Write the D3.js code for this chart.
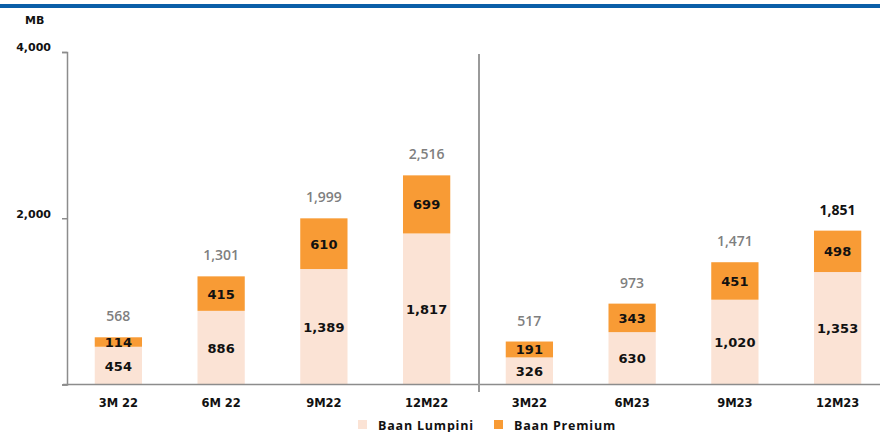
<!DOCTYPE html>
<html>
<head>
<meta charset="utf-8">
<script src="https://cdn.jsdelivr.net/npm/d3@7"></script>
<style>
  body { margin: 0; background: #fff; }
  text { font-family: "DejaVu Sans", sans-serif; }
</style>
</head>
<body>
<svg id="chart" width="880" height="432"></svg>
<script>
var periods = ["3M 22", "6M 22", "9M22", "12M22", "3M22", "6M23", "9M23", "12M23"]
var lumpini = [454, 886, 1389, 1817, 326, 630, 1020, 1353]
var premium = [114, 415, 610, 699, 191, 343, 451, 498]
var totals = [568, 1301, 1999, 2516, 517, 973, 1471, 1851]
var yTicks = [0, 2000, 4000]
var seriesNames = ["Baan Lumpini", "Baan Premium"]

var colors = { "Baan Lumpini": "#fbe3d5", "Baan Premium": "#f89b35" }

var svg = d3.select("#chart")
var fmt = d3.format(",")

// top blue band
svg.append("rect").attr("x", 0).attr("y", 4).attr("width", 880).attr("height", 4).attr("fill", "#0a5fa8")

var x = d3.scaleBand().domain(periods).range([67, 889]).paddingInner(0.54).paddingOuter(0.27)
var y = d3.scaleLinear().domain([0, 4000]).range([384.5, 52])

var rows = periods.map(function(p, i) {
    return { period: p, "Baan Lumpini": lumpini[i], "Baan Premium": premium[i], total: totals[i], i: i }
})
var stacked = d3.stack().keys(seriesNames)(rows)

// bars
var layers = svg.selectAll("g.layer")
    .data(stacked)
    .enter()
    .append("g")
    .attr("class", "layer")
    .attr("fill", function(d) { return colors[d.key] })

layers.selectAll("rect")
    .data(function(d) { return d })
    .enter()
    .append("rect")
    .attr("x", function(d) { return x(d.data.period) })
    .attr("width", x.bandwidth())
    .attr("y", function(d) { return y(d[1]) })
    .attr("height", function(d) { return y(d[0]) - y(d[1]) })

// segment labels
layers.selectAll("text")
    .data(function(d) { return d })
    .enter()
    .append("text")
    .attr("x", function(d) { return x(d.data.period) + x.bandwidth() / 2 })
    .attr("y", function(d) { return (y(d[0]) + y(d[1])) / 2 + 5 })
    .attr("text-anchor", "middle")
    .attr("fill", "#111")
    .style("font-size", "13px")
    .style("font-weight", "bold")
    .text(function(d) { return fmt(d[1] - d[0]) })

// totals
svg.selectAll("text.total")
    .data(rows)
    .enter()
    .append("text")
    .attr("class", "total")
    .attr("x", function(d) { return x(d.period) + x.bandwidth() / 2 })
    .attr("y", function(d) { return y(d.total) - 16 })
    .attr("text-anchor", "middle")
    .attr("fill", function(d) { return d.i == 7 ? "#111" : "#7f7f7f" })
    .style("font-size", "14px")
    .style("font-weight", function(d) { return d.i == 7 ? "bold" : "600" })
    .style("font-family", "'Open Sans', sans-serif")
    .text(function(d) { return fmt(d.total) })

// y axis
var yAxis = svg.append("g")
    .attr("transform", "translate(67,0)")
    .call(d3.axisLeft(y).tickValues(yTicks).tickSize(5).tickFormat(function(d) { return d ? fmt(d) : "" }))
yAxis.select(".domain").attr("stroke", "#8c8c8c").attr("stroke-width", 1.5)
yAxis.selectAll(".tick line").attr("stroke", "#8c8c8c").attr("stroke-width", 1.5)
yAxis.selectAll(".tick text")
    .attr("x", -16)
    .attr("dy", "-0.1em")
    .attr("fill", "#111")
    .style("font-size", "11px")
    .style("font-weight", "bold")
    .style("font-family", "'DejaVu Sans', sans-serif")

// x axis
var xAxis = svg.append("g")
    .attr("transform", "translate(0,384.5)")
    .call(d3.axisBottom(x).tickSize(0).tickPadding(14))
xAxis.select(".domain").attr("stroke", "#8c8c8c").attr("stroke-width", 1.5).attr("d", "M63,0H880")
xAxis.selectAll(".tick text")
    .attr("fill", "#111")
    .style("font-size", "11.5px")
    .style("font-weight", "bold")
    .style("font-family", "'DejaVu Sans', sans-serif")

// separator between years
svg.append("line")
    .attr("x1", 479).attr("x2", 479)
    .attr("y1", 54).attr("y2", 392)
    .attr("stroke", "#9a9a9a").attr("stroke-width", 2)

// unit
svg.append("text")
    .attr("x", 25).attr("y", 24)
    .attr("fill", "#111")
    .style("font-size", "11px")
    .style("font-weight", "bold")
    .text("MB")

// legend
var legend = svg.selectAll("g.legend")
    .data(seriesNames)
    .enter()
    .append("g")
    .attr("class", "legend")
    .attr("transform", function(d, i) { return "translate(" + (358 + i * 136) + ",420)" })
legend.append("rect")
    .attr("width", 9).attr("height", 9)
    .attr("fill", function(d) { return colors[d] })
legend.append("text")
    .attr("x", 20).attr("y", 9.5)
    .attr("fill", "#111")
    .style("font-size", "12.5px")
    .style("font-weight", "bold")
    .style("letter-spacing", "0.8px")
    .style("font-family", "'Open Sans', sans-serif")
    .text(function(d) { return d })
</script>
</body>
</html>
